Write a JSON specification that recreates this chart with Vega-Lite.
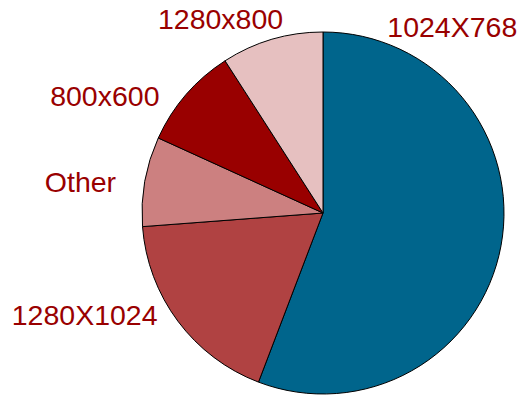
{
  "$schema": "https://vega.github.io/schema/vega-lite/v6.json",
  "width": 362,
  "height": 362,
  "autosize": {"type": "none"},
  "padding": {"left": 142, "top": 32, "right": 25, "bottom": 3},
  "background": "white",
  "config": {"view": {"stroke": null}},
  "data": {
    "values": [
      {"resolution": "1024X768", "share": 55.8, "rank": 1},
      {"resolution": "1280X1024", "share": 18.0, "rank": 2},
      {"resolution": "Other", "share": 8.0, "rank": 3},
      {"resolution": "800x600", "share": 9.1, "rank": 4},
      {"resolution": "1280x800", "share": 9.1, "rank": 5}
    ]
  },
  "encoding": {
    "theta": {"field": "share", "type": "quantitative", "stack": true},
    "order": {"field": "rank", "type": "quantitative"},
    "detail": {"field": "resolution", "type": "nominal"}
  },
  "layer": [
    {
      "mark": {"type": "arc", "stroke": "black", "strokeWidth": 1},
      "encoding": {
        "color": {
          "field": "resolution",
          "type": "nominal",
          "scale": {
            "domain": ["1024X768", "1280X1024", "Other", "800x600", "1280x800"],
            "range": ["#00658C", "#B04242", "#CC8080", "#990000", "#E6C0C0"]
          },
          "legend": null
        }
      }
    },
    {
      "mark": {"type": "text", "radius": 225, "dx": -92, "dy": -226, "font": "Liberation Sans", "fontSize": 28.5, "color": "#990000", "align": "center", "baseline": "middle"},
      "encoding": {"text": {"condition": {"test": "datum.resolution === '1024X768'", "field": "resolution"}, "value": ""}}
    },
    {
      "mark": {"type": "text", "radius": 225, "dx": -58, "dy": -32, "font": "Liberation Sans", "fontSize": 28.5, "color": "#990000", "align": "center", "baseline": "middle"},
      "encoding": {"text": {"condition": {"test": "datum.resolution === '1280X1024'", "field": "resolution"}, "value": ""}}
    },
    {
      "mark": {"type": "text", "radius": 225, "dx": -21, "dy": 9, "font": "Liberation Sans", "fontSize": 28.5, "color": "#990000", "align": "center", "baseline": "middle"},
      "encoding": {"text": {"condition": {"test": "datum.resolution === 'Other'", "field": "resolution"}, "value": ""}}
    },
    {
      "mark": {"type": "text", "radius": 225, "dx": -48, "dy": 31, "font": "Liberation Sans", "fontSize": 28.5, "color": "#990000", "align": "center", "baseline": "middle"},
      "encoding": {"text": {"condition": {"test": "datum.resolution === '800x600'", "field": "resolution"}, "value": ""}}
    },
    {
      "mark": {"type": "text", "radius": 225, "dx": -39, "dy": 23, "font": "Liberation Sans", "fontSize": 28.5, "color": "#990000", "align": "center", "baseline": "middle"},
      "encoding": {"text": {"condition": {"test": "datum.resolution === '1280x800'", "field": "resolution"}, "value": ""}}
    }
  ]
}
